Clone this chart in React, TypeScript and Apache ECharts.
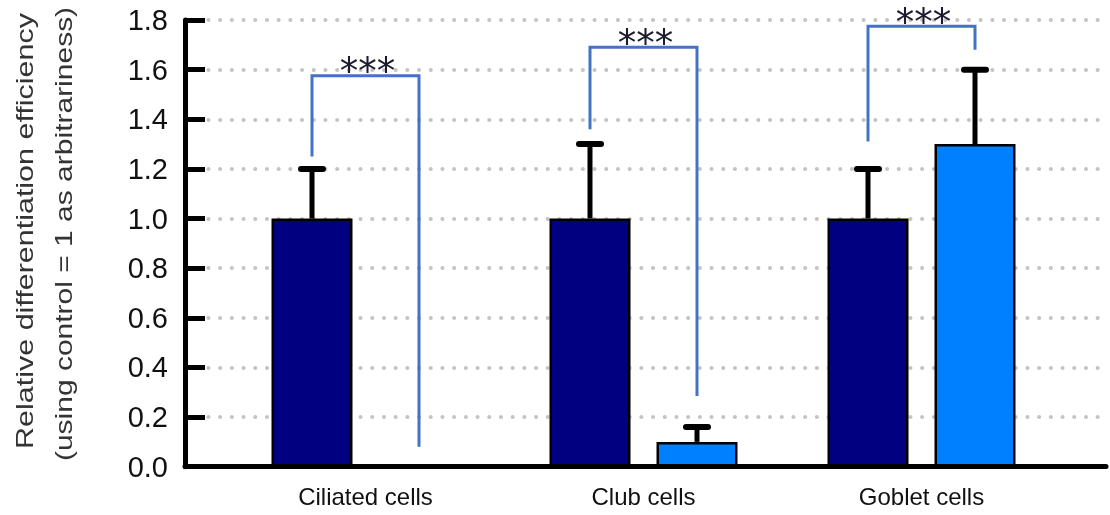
import React, { useEffect, useRef } from "react";
import * as echarts from "echarts";

const categories = ["Ciliated cells", "Club cells", "Goblet cells"];
const controlValues = [1.0, 1.0, 1.0];
const treatedValues = [0.0, 0.1, 1.3];
const controlErrTop = [1.2, 1.3, 1.2];
const treatedErrTop: (number | null)[] = [null, 0.16, 1.6];
const bracketLeftBottom = [1.25, 1.36, 1.31];
const bracketTop = [1.575, 1.69, 1.775];
const bracketRightBottom = [0.08, 0.285, 1.68];
const significance = ["***", "***", "***"];
const yMin = 0;
const yMax = 1.8;
const yInterval = 0.2;

const BAR_WIDTH = 81;
const BAR_GAP_PX = 26;
const OFFSET = (BAR_WIDTH + BAR_GAP_PX) / 2;
const FONT = '"Liberation Sans", Arial, sans-serif';

function errRenderer(off: number) {
  return (params: any, api: any) => {
    const base = api.coord([api.value(0), api.value(1)]);
    const top = api.coord([api.value(0), api.value(2)]);
    const x = base[0] + off;
    return {
      type: "group",
      children: [
        { type: "line", shape: { x1: x, y1: base[1], x2: x, y2: top[1] }, style: { stroke: "#000", lineWidth: 5 } },
        { type: "line", shape: { x1: x - 11, y1: top[1], x2: x + 11, y2: top[1] }, style: { stroke: "#000", lineWidth: 6, lineCap: "round" } },
      ],
    };
  };
}

export default function App() {
  const ref = useRef<HTMLDivElement>(null);
  useEffect(() => {
    if (!ref.current) return;
    const chart = echarts.init(ref.current, null, { renderer: "svg" });
    const controlErrData = categories.map((_, i) => [i, controlValues[i], controlErrTop[i]]);
    const treatedErrData = categories
      .map((_, i) => [i, treatedValues[i], treatedErrTop[i]])
      .filter((d) => d[2] !== null);
    const bracketData = categories.map((_, i) => [i, bracketLeftBottom[i], bracketTop[i], bracketRightBottom[i]]);
    chart.setOption({
      animation: false,
      grid: [
        { left: 226.5, right: 49.5, top: 20, bottom: 48.3 },
        { left: 185, right: 10, top: 20, bottom: 48.3 },
        { left: 185, right: 4, top: 20, bottom: 48.3 },
      ],
      xAxis: [
        {
          gridIndex: 0,
          type: "category",
          data: categories,
          axisLine: { show: false },
          axisTick: { show: false },
          splitLine: { show: false },
          axisLabel: { fontSize: 24, fontFamily: FONT, color: "#111", margin: 18 },
        },
        { gridIndex: 1, type: "value", min: 0, max: 1, show: false },
        {
          gridIndex: 2,
          type: "value",
          min: 0,
          max: 1,
          z: 10,
          axisLine: { show: true, onZero: false, lineStyle: { color: "#000", width: 5 } },
          axisTick: { show: false },
          axisLabel: { show: false },
          splitLine: { show: false },
        },
      ],
      yAxis: [
        { gridIndex: 0, type: "value", min: yMin, max: yMax, interval: yInterval, show: false },
        {
          gridIndex: 1,
          type: "value",
          min: yMin,
          max: yMax,
          interval: yInterval,
          z: 0,
          axisLine: { show: false },
          axisTick: { show: false },
          axisLabel: { show: false },
          splitLine: { show: true, lineStyle: { color: "#c4c4c4", width: 4, type: [0.1, 11.6], cap: "round" } },
        },
        {
          gridIndex: 2,
          type: "value",
          min: yMin,
          max: yMax,
          interval: yInterval,
          z: 10,
          axisLine: { show: true, lineStyle: { color: "#000", width: 5 } },
          axisTick: { show: true, inside: true, length: 20, lineStyle: { color: "#000", width: 5 } },
          axisLabel: {
            fontSize: 29,
            fontFamily: FONT,
            color: "#111",
            margin: 17,
            formatter: (v: number) => v.toFixed(1),
          },
          splitLine: { show: false },
        },
      ],
      series: [
        {
          type: "bar",
          name: "Control",
          xAxisIndex: 0,
          yAxisIndex: 0,
          data: controlValues,
          barWidth: BAR_WIDTH,
          barGap: (BAR_GAP_PX / BAR_WIDTH) * 100 + "%",
          itemStyle: { color: "#000080", borderColor: "#000", borderWidth: 2.5 },
          z: 2,
        },
        {
          type: "bar",
          name: "Treated",
          xAxisIndex: 0,
          yAxisIndex: 0,
          data: treatedValues,
          barWidth: BAR_WIDTH,
          barGap: (BAR_GAP_PX / BAR_WIDTH) * 100 + "%",
          itemStyle: { color: "#0080FF", borderColor: "#000", borderWidth: 2.5 },
          z: 2,
        },
        {
          type: "custom",
          xAxisIndex: 0,
          yAxisIndex: 0,
          z: 4,
          clip: false,
          data: controlErrData,
          renderItem: errRenderer(-OFFSET),
        },
        {
          type: "custom",
          xAxisIndex: 0,
          yAxisIndex: 0,
          z: 4,
          clip: false,
          data: treatedErrData,
          renderItem: errRenderer(OFFSET),
        },
        {
          type: "custom",
          xAxisIndex: 0,
          yAxisIndex: 0,
          z: 5,
          clip: false,
          data: bracketData,
          renderItem: (params: any, api: any) => {
            const i = api.value(0);
            const pL = api.coord([i, api.value(1)]);
            const pT = api.coord([i, api.value(2)]);
            const pR = api.coord([i, api.value(3)]);
            const xl = pL[0] - OFFSET;
            const xr = pL[0] + OFFSET;
            return {
              type: "group",
              children: [
                {
                  type: "polyline",
                  shape: { points: [[xl, pL[1]], [xl, pT[1]], [xr, pT[1]], [xr, pR[1]]] },
                  style: { stroke: "#4472C4", lineWidth: 3, fill: null, lineJoin: "miter" },
                },
                {
                  type: "text",
                  style: {
                    text: significance[params.dataIndex],
                    x: (xl + xr) / 2 + 2,
                    y: pT[1] - 4,
                    align: "center",
                    verticalAlign: "middle",
                    font: '37px "DejaVu Sans", sans-serif',
                    fill: "#1b1b2b",
                  },
                },
              ],
            };
          },
        },
      ],
      graphic: [
        {
          type: "text",
          x: 25,
          y: 231,
          rotation: Math.PI / 2,
          scaleX: 1.27,
          style: {
            text: "Relative differentiation efficiency",
            x: 0,
            y: 0,
            align: "center",
            verticalAlign: "middle",
            font: '24px "Liberation Sans", Arial, sans-serif',
            fill: "#333",
          },
        },
        {
          type: "text",
          x: 64,
          y: 234,
          rotation: Math.PI / 2,
          scaleX: 1.25,
          style: {
            text: "(using control = 1 as arbitrariness)",
            x: 0,
            y: 0,
            align: "center",
            verticalAlign: "middle",
            font: '24px "Liberation Sans", Arial, sans-serif',
            fill: "#333",
          },
        },
      ],
    });
    return () => chart.dispose();
  }, []);
  return <div ref={ref} style={{ position: "fixed", left: 0, top: 0, width: 1110, height: 515 }} />;
}
